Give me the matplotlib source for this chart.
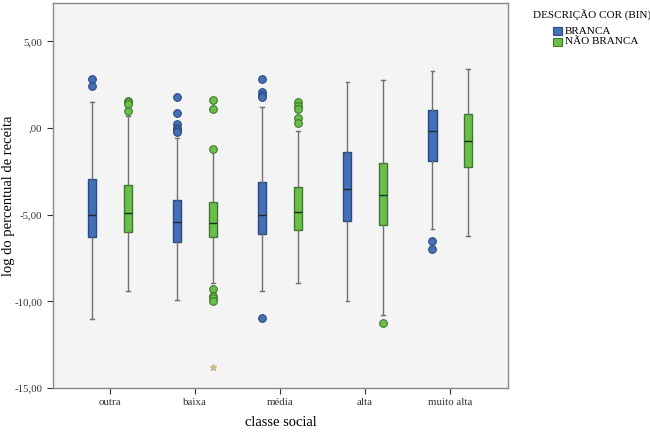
import numpy as np
import matplotlib.pyplot as plt
from matplotlib.patches import Rectangle

plt.rcParams['font.family'] = ['Liberation Serif', 'DejaVu Serif']

categories = ['outra', 'baixa', 'média', 'alta', 'muito alta']
groups = ['BRANCA', 'NÃO BRANCA']

# (whislo, q1, med, q3, whishi) per category
branca = [
    (-11.0, -6.28, -5.0, -2.92, 1.48),
    (-9.95, -6.57, -5.42, -4.13, -0.56),
    (-9.38, -6.13, -5.0, -3.13, 1.19),
    (-9.99, -5.36, -3.54, -1.38, 2.65),
    (-5.82, -1.88, -0.16, 1.04, 3.28),
]
nao_branca = [
    (-9.38, -5.99, -4.92, -3.29, 0.67),
    (-8.97, -6.28, -5.48, -4.27, -1.35),
    (-8.93, -5.88, -4.84, -3.42, -0.17),
    (-10.78, -5.57, -3.86, -2.04, 2.77),
    (-6.22, -2.25, -0.73, 0.81, 3.40),
]
branca_out = [
    [2.81, 2.43],
    [1.82, 0.88, 0.23, 0.03, -0.1, -0.2],
    [2.82, 2.07, 1.92, 1.79, -10.99],
    [],
    [-6.5, -6.96],
]
nao_branca_out = [
    [1.59, 1.48, 1.40, 0.96],
    [1.61, 1.11, -1.19, -9.28, -9.67, -9.82, -9.99],
    [1.48, 1.28, 1.09, 0.58, 0.29],
    [-11.28],
    [],
]
extremes = [(1, 1, -13.8)]  # (category, group, value)

colors = ['#4470B8', '#6ABF4B']
edges = ['#2A4A80', '#3F7A2C']

fig = plt.figure(figsize=(6.5, 4.32), dpi=100)
ax = fig.add_axes([0.0815, 0.102, 0.70, 0.891])
ax.set_facecolor('#F4F4F4')

offset = 0.21
for g, (stats_src, outs) in enumerate([(branca, branca_out), (nao_branca, nao_branca_out)]):
    stats = []
    for s, o in zip(stats_src, outs):
        stats.append(dict(whislo=s[0], q1=s[1], med=s[2], q3=s[3], whishi=s[4], fliers=o))
    pos = np.arange(len(categories)) + (-offset if g == 0 else offset)
    ax.bxp(stats, positions=pos, widths=0.1, patch_artist=True, showfliers=True,
           boxprops=dict(facecolor=colors[g], edgecolor=edges[g], linewidth=1.0),
           medianprops=dict(color='#1E2A1E', linewidth=1.0),
           whiskerprops=dict(color='#707070', linewidth=1.0),
           capprops=dict(color='#707070', linewidth=1.0),
           capwidths=0.04,
           flierprops=dict(marker='o', markerfacecolor=colors[g], markeredgecolor=edges[g],
                           markersize=5.5, markeredgewidth=0.8))

for c, g, v in extremes:
    ax.plot(c + (-offset if g == 0 else offset), v, marker='*', color='#C8B88A',
            markersize=5, linestyle='none')

ax.set_xlim(-0.67, 4.68)
ax.set_ylim(-15, 7.22)
ax.set_xticks(range(len(categories)))
ax.set_xticklabels(categories, fontsize=7.8)
ax.set_yticks([5, 0, -5, -10, -15])
ax.set_yticklabels(['5,00', ',00', '-5,00', '-10,00', '-15,00'], fontsize=7.8)
ax.tick_params(colors='#333333', length=4, width=0.8)
for sp in ax.spines.values():
    sp.set_color('#888888')
    sp.set_linewidth(1.0)
ax.set_xlabel('classe social', fontsize=10.5, va='center')
ax.set_ylabel('log do percentual de receita', fontsize=10.5, va='center')
ax.xaxis.set_label_coords(0.5, -0.091)
ax.yaxis.set_label_coords(-0.098, 0.5)

# legend, outside the axes at top right
W, H = 650, 432
fig.text(533 / W, 1 - 15 / H, 'DESCRIÇÃO COR (BIN)', fontsize=8, va='center', ha='left')
for i, name in enumerate(groups):
    yc = 31 + 11 * i
    fig.patches.append(Rectangle((553 / W, 1 - (yc + 4) / H), 9 / W, 8 / H,
                                 transform=fig.transFigure, facecolor=colors[i],
                                 edgecolor=edges[i], linewidth=0.8))
    fig.text(565 / W, 1 - yc / H, name, fontsize=8, va='center', ha='left')

fig.savefig('out.png', dpi=100)
